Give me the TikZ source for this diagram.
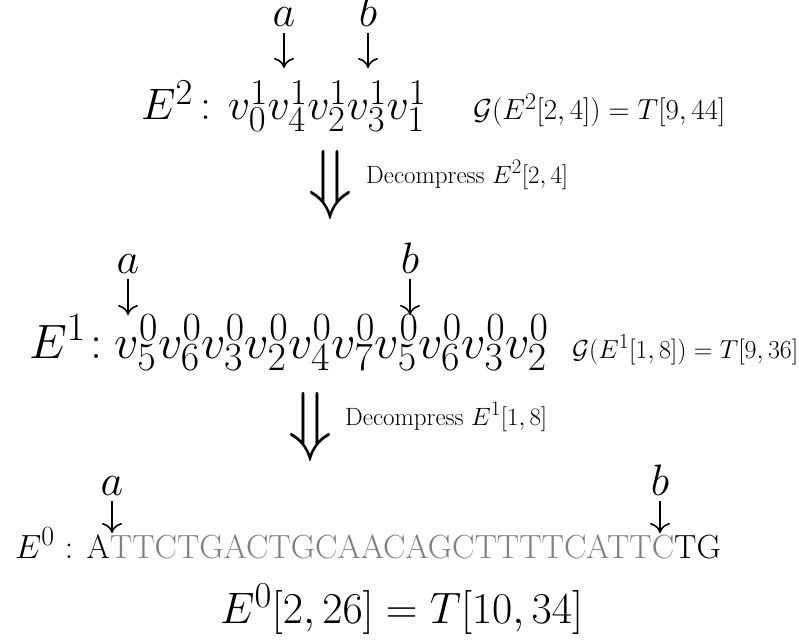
\RequirePackage{fix-cm}
\documentclass[tikz,border=0pt]{standalone}
\usepackage{amsmath}
\usetikzlibrary{arrows.meta}
\DeclareMathSizes{44}{44}{36.5}{29}
\DeclareMathSizes{48.2}{48.2}{40}{32}
\DeclareMathSizes{29}{29}{24}{19.3}
\DeclareMathSizes{26}{26}{21.6}{17.3}
\DeclareMathSizes{25}{25}{20.75}{16.6}
\DeclareMathSizes{33.5}{33.5}{27.8}{22.2}
\begin{document}
\begin{tikzpicture}[x=1pt,y=-1pt,
  bigtext/.style={inner sep=0pt, anchor=base west, font=\fontsize{44}{52}\selectfont},
  midtext/.style={inner sep=0pt, anchor=base west, font=\fontsize{48.2}{56}\selectfont},
  ptr/.style={inner sep=0pt, anchor=base, font=\fontsize{44}{52}\selectfont},
  lbl/.style={inner sep=0pt, anchor=base west, font=\fontsize{25}{30}\selectfont},
  seqtext/.style={inner sep=0pt, anchor=base west, font=\fontsize{33.5}{40}\selectfont},
  bigarr/.style={inner sep=0pt, anchor=north, font=\fontsize{72}{80}\selectfont},
  darr/.style={line width=1.6pt, shorten <=6pt, -{Computer Modern Rightarrow[length=10pt,width=20pt]}}]
\useasboundingbox (0,0) rectangle (799,639);
% ---- level 2
\node[ptr] (a2) at (284,27) {$a$};
\node[ptr] (b2) at (368,27) {$b$};
\coordinate (a2t) at (284,68);
\coordinate (b2t) at (368,68);
\draw[darr] (a2.south) -- (a2t);
\draw[darr] (b2.south) -- (b2t);
\node[bigtext] (e2) at (141,120) {$E^{2}\mkern2.9mu{:}\hspace{17pt}v^{1}_{0}v^{1}_{4}v^{1}_{2}v^{1}_{3}v^{1}_{1}$};
\node[lbl, font=\fontsize{29}{34}\selectfont] (g2) at (473,120) {$\mathcal{G}(E^{2}[2,4])=T[9,44]$};
\node[bigarr] (d2) at (330,150) {\scalebox{1}[1.08]{$\Downarrow$}};
\node[lbl] (l2) at (366,183) {Decompress $E^{2}[2,4]$};
% ---- level 1
\node[ptr] (a1) at (128,273) {$a$};
\node[ptr] (b1) at (410,273) {$b$};
\coordinate (a1t) at (128,315);
\coordinate (b1t) at (410,315);
\draw[darr] (a1.south) -- (a1t);
\draw[darr] (b1.south) -- (b1t);
\node[midtext] (e1) at (29,358) {$E^{1}\mkern1.6mu{:}\hspace{12.5pt}v^{0}_{5}v^{0}_{6}v^{0}_{3}v^{0}_{2}v^{0}_{4}v^{0}_{7}v^{0}_{5}v^{0}_{6}v^{0}_{3}v^{0}_{2}$};
\node[lbl, font=\fontsize{26}{31}\selectfont] (g1) at (572,358) {$\mathcal{G}(E^{1}[1,8])=T[9,36]$};
\node[bigarr] (d1) at (310,392) {\scalebox{1}[1.08]{$\Downarrow$}};
\node[lbl] (l1) at (345,425) {Decompress $E^{1}[1,8]$};
% ---- level 0
\node[ptr] (a0) at (112,495) {$a$};
\node[ptr] (b0) at (660,495) {$b$};
\coordinate (a0t) at (112,533);
\coordinate (b0t) at (660,533);
\draw[darr] (a0.south) -- (a0t);
\draw[darr] (b0.south) -- (b0t);
\node[seqtext] (e0) at (15,558) {$E^{0}$ : A\textcolor{gray}{TTCTGACTGCAACAGCTTTTCATTC}TG};
\node[bigtext] (r0) at (220,623) {$E^{0}[2,26]=T[10,34]$};
\end{tikzpicture}
\end{document}
